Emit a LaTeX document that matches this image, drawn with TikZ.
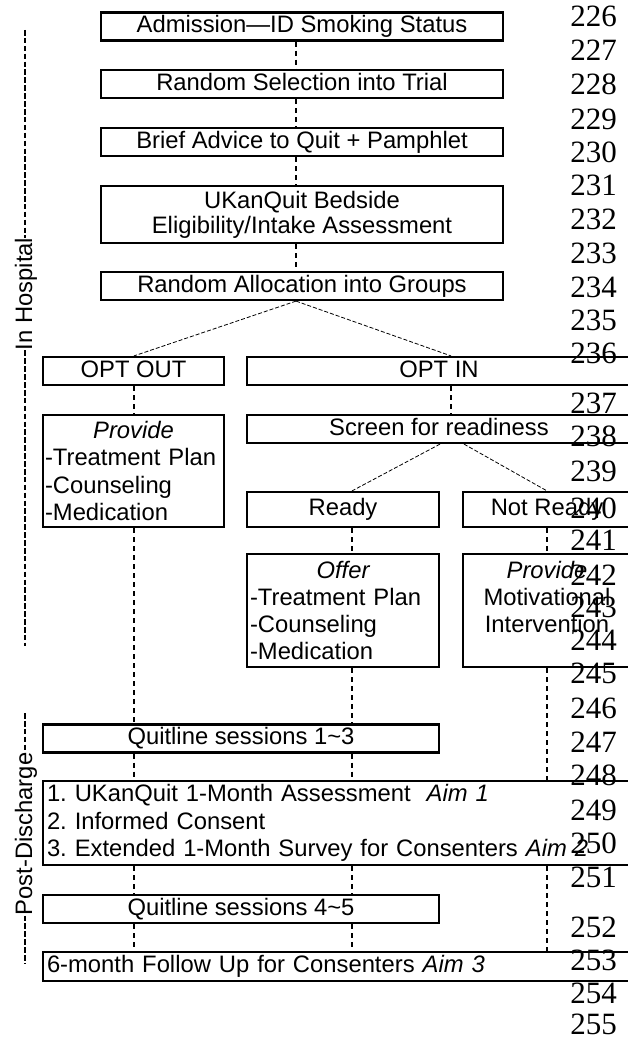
\documentclass[tikz,border=0pt]{standalone}
\usepackage{fontspec}
\setmainfont{Liberation Sans}
\newfontfamily\lnfont{Liberation Serif}
\frenchspacing
\begin{document}
\begin{tikzpicture}[x=1pt,y=-1pt,
  box/.style={draw, line width=2.2pt, inner sep=0pt, font=\fontsize{23.8}{27.3}\selectfont},
  sbox/.style={box, text height=17.2pt, text depth=5pt},
  conn/.style={line width=2pt, dash pattern=on 5pt off 4pt},
  diag/.style={line width=0.8pt, dash pattern=on 4pt off 2pt},
  side/.style={line width=2pt, dash pattern=on 5.6pt off 2.3pt},
  lnum/.style={font=\lnfont\fontsize{31}{31}\selectfont, anchor=base east, inner sep=0pt},
  slabel/.style={rotate=90, anchor=base, inner sep=0pt, font=\fontsize{23.8}{27}\selectfont}
]
\useasboundingbox (0,0) rectangle (628,1038);
\fill[white] (0,0) rectangle (628,1038);

% connector x positions
\coordinate (mx) at (296,0);
\coordinate (lx) at (134,0);
\coordinate (rx) at (352,0);
\coordinate (ix) at (451,0);
\coordinate (nx) at (547,0);
\coordinate (sa) at (440,0);
\coordinate (sb) at (464,0);

% boxes
\node[sbox, minimum width=402pt, minimum height=28pt] (adm) at (302,26.5) {Admission—ID Smoking Status};
\node[sbox, minimum width=402pt, minimum height=28pt] (rsel) at (302,84) {Random Selection into Trial};
\node[sbox, minimum width=402pt, minimum height=28pt] (brief) at (302,142) {Brief Advice to Quit + Pamphlet};
\node[box, align=center, minimum width=402pt, minimum height=57pt, font=\fontsize{23.8}{25}\selectfont] (ukq) at (302,214.5) {UKanQuit Bedside\\Eligibility/Intake Assessment};
\node[sbox, minimum width=402pt, minimum height=28pt] (ralloc) at (302,286) {Random Allocation into Groups};

\node[sbox, minimum width=181pt, minimum height=28pt] (optout) at (133.5,371) {OPT OUT};
\node[sbox, minimum width=384pt, minimum height=28pt] (optin) at (439,371) {OPT IN};

\node[box, align=left, text width=177pt, minimum width=181pt, minimum height=112pt] (prov) at (133.5,471)
  {\makebox[177pt][c]{\itshape Provide}\\-Treatment Plan\\-Counseling\\-Medication};
\node[sbox, minimum width=384pt, minimum height=28pt] (screen) at (439,429) {Screen for readiness};

\node[sbox, minimum width=192pt, minimum height=35pt] (ready) at (343,509.5) {Ready};
\node[sbox, minimum width=168pt, minimum height=35pt] (notready) at (547,509.5) {Not Ready};

\node[box, align=left, text width=186pt, minimum width=192pt, minimum height=113pt] (offer) at (343,610.5)
  {\makebox[186pt][c]{\itshape Offer}\\-Treatment Plan\\-Counseling\\-Medication};
\node[box, align=center, minimum width=168pt, minimum height=113pt] (motiv) at (547,610.5)
  {\textit{Provide}\\Motivational\\Intervention\\\mbox{}};

\node[sbox, minimum width=396pt, minimum height=28pt] (ql1) at (241,738.5) {Quitline sessions 1\textasciitilde 3};

\node[box, align=left, text width=589pt, minimum width=597pt, minimum height=84pt, font=\fontsize{23.8}{27.5}\selectfont] (big) at (341.5,823)
  {1. UKanQuit 1-Month Assessment\ \ \textit{Aim 1}\\2. Informed Consent\\3. Extended 1-Month Survey for Consenters \textit{Aim 2}};

\node[sbox, minimum width=396pt, minimum height=28pt] (ql2) at (241,909) {Quitline sessions 4\textasciitilde 5};

\node[sbox, align=left, text width=589pt, minimum width=597pt, minimum height=29pt] (six) at (341.5,966.5)
  {6-month Follow Up for Consenters \textit{Aim 3}};

% connectors
\draw[conn] (adm.south -| mx) -- (rsel.north -| mx);
\draw[conn] (rsel.south -| mx) -- (brief.north -| mx);
\draw[conn] (brief.south -| mx) -- (ukq.north -| mx);
\draw[conn] (ukq.south -| mx) -- (ralloc.north -| mx);
\draw[diag] (ralloc.south -| mx) -- (optout.north -| lx);
\draw[diag] (ralloc.south -| mx) -- (optin.north -| ix);
\draw[conn] (optout.south -| lx) -- (prov.north -| lx);
\draw[conn] (optin.south -| ix) -- (screen.north -| ix);
\draw[diag] (screen.south -| sa) -- (ready.north -| rx);
\draw[diag] (screen.south -| sb) -- (notready.north -| nx);
\draw[conn] (ready.south -| rx) -- (offer.north -| rx);
\draw[conn] (notready.south -| nx) -- (motiv.north -| nx);
\draw[conn] (prov.south -| lx) -- (ql1.north -| lx);
\draw[conn] (offer.south -| rx) -- (ql1.north -| rx);
\draw[conn] (motiv.south -| nx) -- (big.north -| nx);
\draw[conn] (ql1.south -| lx) -- (big.north -| lx);
\draw[conn] (ql1.south -| rx) -- (big.north -| rx);
\draw[conn] (big.south -| lx) -- (ql2.north -| lx);
\draw[conn] (big.south -| rx) -- (ql2.north -| rx);
\draw[conn] (big.south -| nx) -- (six.north -| nx);
\draw[conn] (ql2.south -| lx) -- (six.north -| lx);
\draw[conn] (ql2.south -| rx) -- (six.north -| rx);

% side labels
\node[slabel] (hosp) at (32,294) {In Hospital};
\coordinate (h1) at (25,30);
\coordinate (h2) at (25,646);
\draw[side] (h1) -- (h1 |- hosp.east);
\draw[side] (h1 |- hosp.west) -- (h2);
\node[slabel] (post) at (32,834) {Post-Discharge};
\coordinate (p1) at (25,713);
\coordinate (p2) at (25,963);
\draw[side] (p1) -- (p1 |- post.east);
\draw[side] (p1 |- post.west) -- (p2);

% line numbers
\foreach \n/\b in {226/27, 227/61, 228/95, 229/129, 230/162, 231/195, 232/229, 233/263, 234/297, 235/330,
  236/363, 237/413, 238/446, 239/481, 240/518, 241/550, 242/585, 243/617, 244/650, 245/683,
  246/718, 247/752, 248/785, 249/820, 250/853, 251/887, 252/937, 253/970, 254/1003, 255/1034}
  \node[lnum] (ln\n) at (617,\b) {\n};
\end{tikzpicture}
\end{document}
